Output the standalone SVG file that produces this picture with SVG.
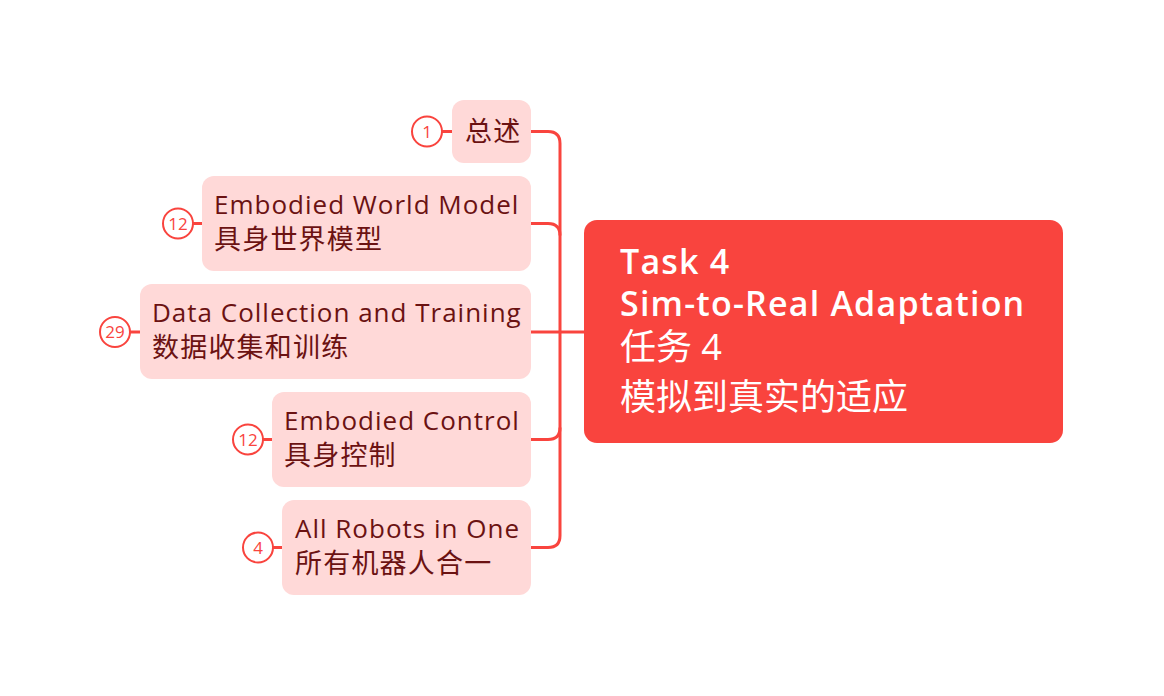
<svg xmlns="http://www.w3.org/2000/svg" width="1164" height="696" viewBox="0 0 1164 696">
<style>
.child{fill:#FFD9D8;}
.ct{font-family:"Open Sans","Noto Sans CJK SC",sans-serif;font-size:26px;letter-spacing:1px;fill:#6B1212;}
.cc{font-size:27px;letter-spacing:1.2px;}
.root{fill:#F9443E;}
.rt{font-family:"Open Sans","Noto Sans CJK SC",sans-serif;font-size:34px;font-weight:600;fill:#FFFFFF;letter-spacing:1.2px;}
.rc{font-weight:normal;font-size:36px;letter-spacing:0;}
.conn{fill:none;stroke:#F9443E;stroke-width:3;}
.badge{fill:#FFFFFF;stroke:#F9443E;stroke-width:2;}
.bt{font-family:"Open Sans",sans-serif;font-size:17px;fill:#F9443E;text-anchor:middle;}
</style>
<rect width="1164" height="696" fill="#FFFFFF"/>
<g id="connectors">
<path class="conn" d="M531,131.5 H548 Q560,131.5 560,143.5 V535.5 Q560,547.5 548,547.5 H531"/>
<path class="conn" d="M531,223.5 H548 Q560,223.5 560,235.5"/>
<path class="conn" d="M531,439.5 H548 Q560,439.5 560,427.5"/>
<path class="conn" d="M531,332 H584"/>
<path class="conn" d="M442,131.5 H452"/>
<path class="conn" d="M193,223.5 H202"/>
<path class="conn" d="M130,332 H140"/>
<path class="conn" d="M263,439.5 H272"/>
<path class="conn" d="M273,547.5 H282"/>
</g>
<g id="root">
<rect class="root" x="584" y="220" width="479" height="223" rx="13"/>
<text class="rt" x="620" y="274">Task 4</text>
<text class="rt" x="620" y="316">Sim-to-Real Adaptation</text>
<text class="rt rc" x="620" y="360">任务 4</text>
<text class="rt rc" x="620" y="410">模拟到真实的适应</text>
</g>
<g id="n1">
<rect class="child" x="452" y="100" width="79" height="63" rx="12"/>
<text class="ct cc" x="465" y="141">总述</text>
<circle class="badge" cx="427" cy="131.5" r="15"/>
<text class="bt" x="427" y="137.5">1</text>
</g>
<g id="n2">
<rect class="child" x="202" y="176" width="329" height="95" rx="12"/>
<text class="ct" x="214" y="214">Embodied World Model</text>
<text class="ct cc" x="214" y="249">具身世界模型</text>
<circle class="badge" cx="178" cy="223.5" r="15"/>
<text class="bt" x="178" y="229.5">12</text>
</g>
<g id="n3">
<rect class="child" x="140" y="284" width="391" height="95" rx="12"/>
<text class="ct" x="152" y="322">Data Collection and Training</text>
<text class="ct cc" x="152" y="357">数据收集和训练</text>
<circle class="badge" cx="115" cy="332" r="15"/>
<text class="bt" x="115" y="338">29</text>
</g>
<g id="n4">
<rect class="child" x="272" y="392" width="259" height="95" rx="12"/>
<text class="ct" x="284" y="430">Embodied Control</text>
<text class="ct cc" x="284" y="465">具身控制</text>
<circle class="badge" cx="248" cy="439.5" r="15"/>
<text class="bt" x="248" y="445.5">12</text>
</g>
<g id="n5">
<rect class="child" x="282" y="500" width="249" height="95" rx="12"/>
<text class="ct" x="295" y="538">All Robots in One</text>
<text class="ct cc" x="295" y="573">所有机器人合一</text>
<circle class="badge" cx="258" cy="547.5" r="15"/>
<text class="bt" x="258" y="553.5">4</text>
</g>
</svg>
